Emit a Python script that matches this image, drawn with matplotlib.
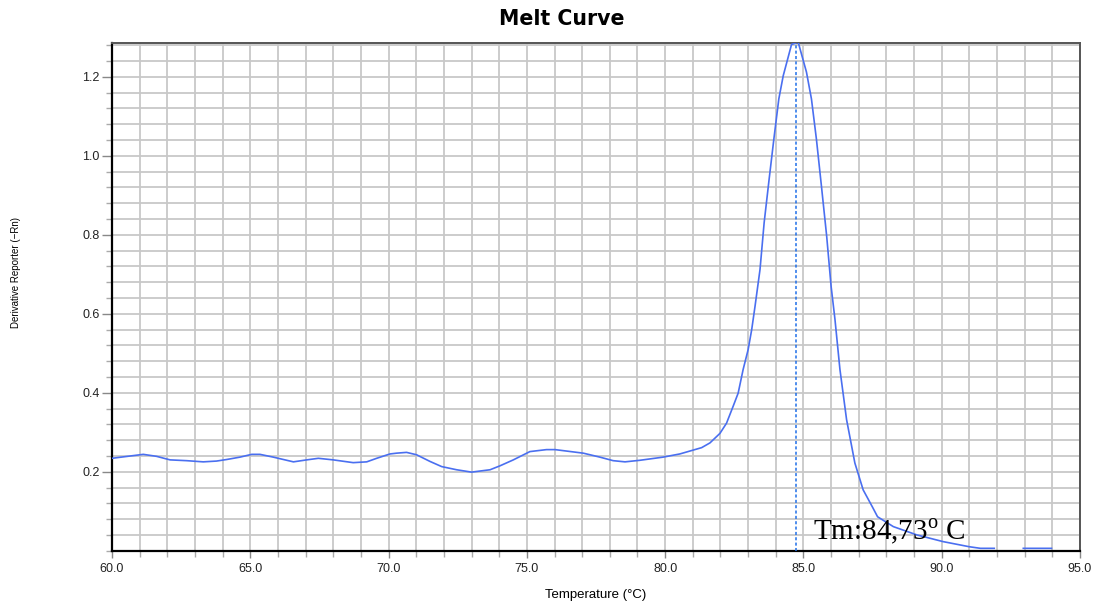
import numpy as np
import matplotlib.pyplot as plt
from matplotlib.ticker import MultipleLocator, FormatStrFormatter

# Melt curve readings (temperature in C, derivative reporter -Rn)
temps = [60.0, 61.13, 61.61, 62.1, 62.7, 63.3, 63.78, 64.15, 64.63, 65.05,
         65.35, 65.83, 66.56, 67.04, 67.46, 68.0, 68.72, 69.21, 69.57, 70.05,
         70.29, 70.65, 71.01, 71.5, 71.92, 72.46, 73.0, 73.67, 74.03, 74.51,
         75.11, 75.71, 76.02, 77.04, 77.64, 78.12, 78.55, 79.09, 79.93, 80.53,
         81.32, 81.62, 81.98, 82.22, 82.46, 82.64, 82.82, 83.0, 83.13, 83.25,
         83.43, 83.58, 83.76, 83.93, 84.11, 84.27, 84.57, 84.81,
         85.11, 85.29, 85.47, 85.65, 85.84, 86.0, 86.14, 86.32, 86.56, 86.86,
         87.16, 87.5, 87.68, 88.25, 89.1, 90.05, 91.0, 91.4, 91.9, 92.4,
         92.95, 93.97]
deriv = [0.234, 0.244, 0.239, 0.230, 0.228, 0.225, 0.227, 0.231, 0.237, 0.244,
         0.244, 0.237, 0.225, 0.230, 0.234, 0.230, 0.223, 0.225, 0.234, 0.245,
         0.247, 0.249, 0.243, 0.226, 0.213, 0.205, 0.199, 0.205, 0.215, 0.230,
         0.251, 0.256, 0.256, 0.247, 0.237, 0.228, 0.225, 0.229, 0.237, 0.245,
         0.261, 0.273, 0.297, 0.323, 0.366, 0.399, 0.459, 0.509, 0.560, 0.619,
         0.712, 0.831, 0.941, 1.042, 1.144, 1.203, 1.282, 1.288,
         1.212, 1.144, 1.042, 0.924, 0.797, 0.670, 0.586, 0.459, 0.332, 0.222,
         0.154, 0.110, 0.086, 0.061, 0.040, 0.023, 0.010, 0.006, 0.006, np.nan,
         0.006, 0.006]
tm = 84.73

plt.rcParams['font.family'] = ['Liberation Sans', 'DejaVu Sans']
plt.rcParams['mathtext.fontset'] = 'custom'
plt.rcParams['mathtext.rm'] = 'Liberation Serif'

fig = plt.figure(figsize=(10.94, 6.02), dpi=100)
ax = fig.add_axes([112 / 1094, 1 - 550.7 / 602, 968 / 1094, 507.4 / 602])

ax.plot(temps, deriv, color='#4a6ff0', lw=1.2, zorder=3)
ax.axvline(tm, color='#1f6fe8', lw=1.1, ls=(0, (2, 1.5)), zorder=3)

ax.set_xlim(60, 95)
ax.set_ylim(0, 1.285)
ax.xaxis.set_major_locator(MultipleLocator(5))
ax.xaxis.set_minor_locator(MultipleLocator(1))
ax.yaxis.set_major_locator(MultipleLocator(0.2))
ax.yaxis.set_minor_locator(MultipleLocator(0.04))
ax.xaxis.set_major_formatter(FormatStrFormatter('%.1f'))
ax.yaxis.set_major_formatter(FormatStrFormatter('%.1f'))
ax.set_yticks([0.2, 0.4, 0.6, 0.8, 1.0, 1.2])

ax.grid(True, which='both', color='#c8c8c8', lw=1.3, zorder=0)
ax.set_axisbelow(True)
ax.tick_params(which='major', length=7, width=1, color='#888888',
               labelsize=9, labelcolor='#222222', pad=2)
ax.tick_params(which='minor', length=4, width=1, color='#aaaaaa')
ax.tick_params(axis='x', which='major', length=5, pad=4)

for side in ['left', 'bottom']:
    ax.spines[side].set_color('black')
    ax.spines[side].set_linewidth(1.6)
for side in ['top', 'right']:
    ax.spines[side].set_color('#555555')
    ax.spines[side].set_linewidth(1.4)

ax.set_xlabel('Temperature (°C)', fontsize=9.5, labelpad=10)
fig.text(0.0145, 1 - 273 / 602, 'Derivative Reporter (\u2212Rn)', rotation=90,
         fontsize=7, ha='center', va='center')
fig.text(561.5 / 1094, 1 - 19 / 602, 'Melt Curve', family='DejaVu Sans',
         fontsize=14.8, fontweight='bold', ha='center', va='center')

ax.text(85.34, 0.030, 'Tm:84,73$^{\\mathrm{o}}$ C', family='Liberation Serif',
        fontsize=21, va='baseline', ha='left', zorder=4)

fig.savefig('out.png', dpi=100)
